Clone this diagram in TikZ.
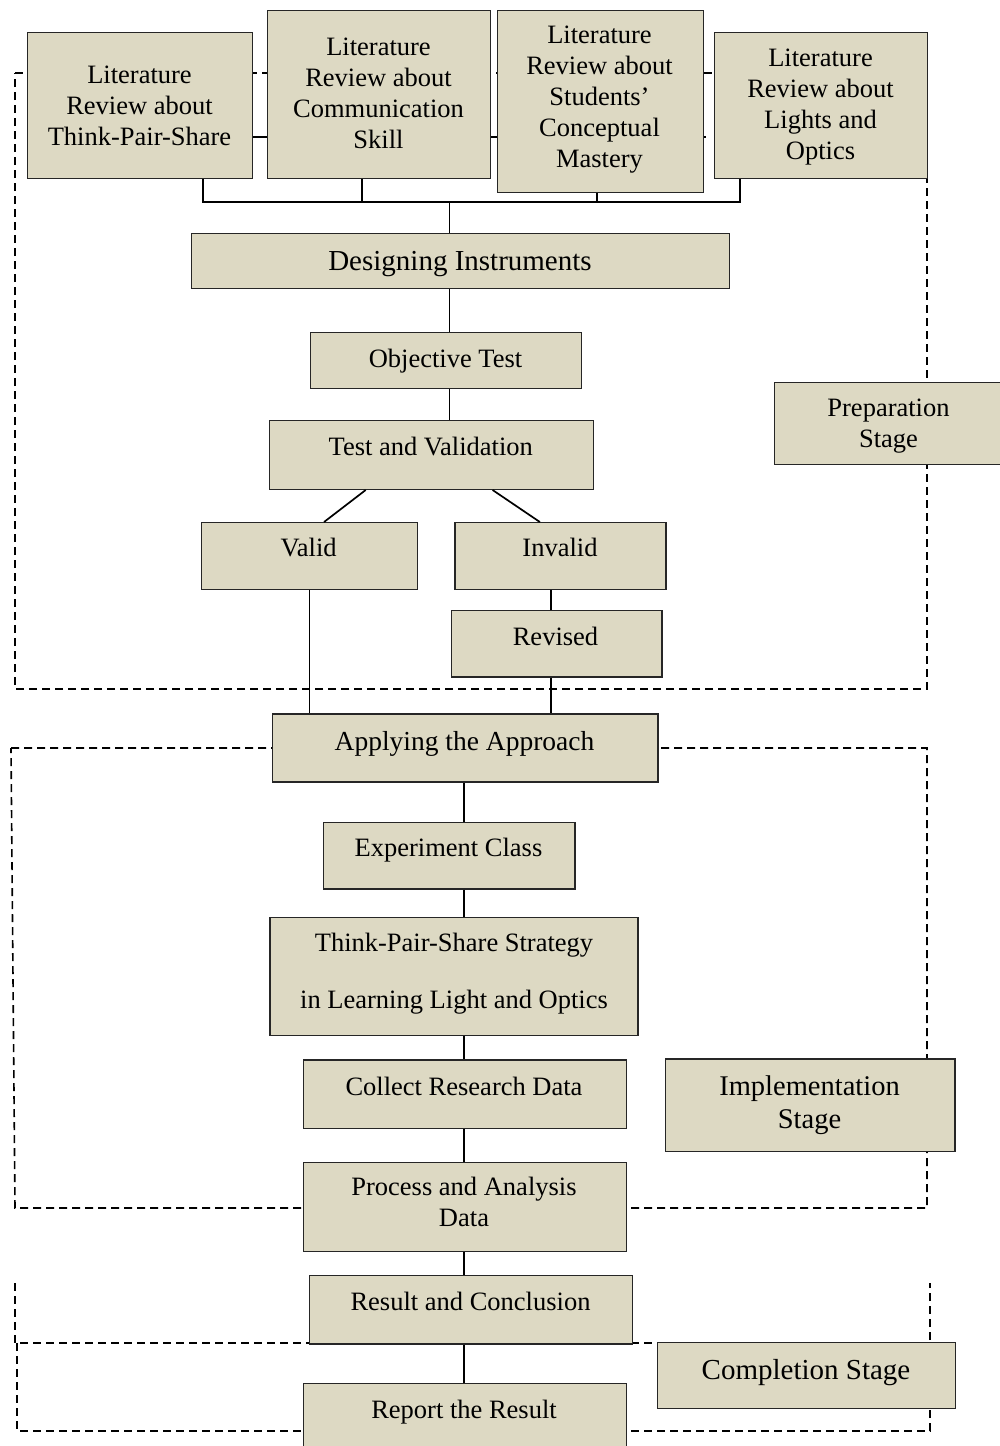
\documentclass[tikz,border=0pt]{standalone}
\usepackage{fontspec}
\setmainfont{Liberation Serif}
\usetikzlibrary{calc,backgrounds}
\definecolor{tanfill}{HTML}{DDD9C3}
\begin{document}
\begin{tikzpicture}[x=1pt,y=-1pt,
  bx/.style={draw=black!85, line width=1.3pt, fill=tanfill, rectangle, inner sep=0pt, anchor=north west},
  tx/.style={anchor=base, align=center, inner sep=0pt, font=\fontsize{26.5}{31}\selectfont},
  link/.style={line width=1.7pt, black},
  zone/.style={line width=1.6pt, black, dash pattern=on 8pt off 5pt}
]
\useasboundingbox (0,0) rectangle (1000,1446);

% boxes
\node[bx, minimum width=225pt, minimum height=146pt] (lit1) at (27,32) {};
\node[bx, minimum width=223pt, minimum height=168pt] (lit2) at (267,10) {};
\node[bx, minimum width=206.5pt, minimum height=181.5pt] (lit3) at (496.5,10) {};
\node[bx, minimum width=213pt, minimum height=146pt] (lit4) at (714,32) {};
\node[bx, minimum width=538pt, minimum height=55pt] (des) at (191,233) {};
\node[bx, minimum width=271pt, minimum height=55.5pt] (obj) at (310,332) {};
\node[bx, minimum width=323.7pt, minimum height=68.7pt] (tv) at (269,420) {};
\node[bx, minimum width=216pt, minimum height=66.7pt] (valid) at (200.7,522) {};
\node[bx, minimum width=211pt, minimum height=66.7pt] (invalid) at (454.3,522) {};
\node[bx, minimum width=210.3pt, minimum height=66.3pt] (rev) at (451,610) {};
\node[bx, minimum width=227pt, minimum height=82pt] (prep) at (774,382) {};
\node[bx, minimum width=385.6pt, minimum height=68pt] (app) at (271.7,713.3) {};
\node[bx, minimum width=251.3pt, minimum height=66.3pt] (exp) at (323,822) {};
\node[bx, minimum width=368pt, minimum height=118pt] (tpss) at (269.3,916.7) {};
\node[bx, minimum width=323.5pt, minimum height=68.7pt] (coll) at (302.5,1059.3) {};
\node[bx, minimum width=323.5pt, minimum height=89pt] (proc) at (302.5,1161.7) {};
\node[bx, minimum width=323pt, minimum height=68.3pt] (res) at (309,1275) {};
\node[bx, minimum width=323.5pt, minimum height=72pt] (rep) at (302.5,1382.7) {};
\node[bx, minimum width=289.3pt, minimum height=92.7pt] (impl) at (665,1058.3) {};
\node[bx, minimum width=298pt, minimum height=66pt] (comp) at (656.7,1342) {};

% texts (anchor = baseline of the last line)
\node[tx] (t-lit1) at (139.5,145) {Literature\\Review about\\Think-Pair-Share};
\node[tx] (t-lit2) at (378.5,148.3) {Literature\\Review about\\Communication\\Skill};
\node[tx] (t-lit3) at (599.5,167.7) {Literature\\Review about\\Students’\\Conceptual\\Mastery};
\node[tx] (t-lit4) at (820.5,159.3) {Literature\\Review about\\Lights and\\Optics};
\node[tx, font=\fontsize{29}{34}\selectfont] (t-des) at (460,270) {Designing Instruments};
\node[tx] (t-obj) at (445.5,367.3) {Objective Test};
\node[tx] (t-tv) at (430.8,455) {Test and Validation};
\node[tx] (t-valid) at (308.7,556.7) {Valid};
\node[tx] (t-invalid) at (560,556.7) {Invalid};
\node[tx] (t-rev) at (555.5,645) {Revised};
\node[tx] (t-prep) at (888.5,447.3) {Preparation\\Stage};
\node[tx, font=\fontsize{27.5}{32}\selectfont] (t-app) at (464.5,750.7) {Applying the Approach};
\node[tx] (t-exp) at (448.5,856.7) {Experiment Class};
\node[tx] (t-tpss) at (454,1008.3) {Think-Pair-Share Strategy\\[26pt]in Learning Light and Optics};
\node[tx] (t-coll) at (464,1095) {Collect Research Data};
\node[tx] (t-proc) at (464,1226.7) {Process and Analysis\\Data};
\node[tx] (t-res) at (470.5,1310) {Result and Conclusion};
\node[tx] (t-rep) at (464,1418.3) {Report the Result};
\node[tx, font=\fontsize{28.5}{33}\selectfont] (t-impl) at (809.5,1128.3) {Implementation\\Stage};
\node[tx, font=\fontsize{29}{34}\selectfont] (t-comp) at (806,1379.3) {Completion Stage};

% helper coordinates
\coordinate (xa) at (203,202);
\coordinate (xb) at (362,202);
\coordinate (xc) at (597,202);
\coordinate (xd) at (740,202);
\coordinate (trunk) at (449.6,202);
\coordinate (xr) at (551,0);
\coordinate (spine) at (464,0);

% connectors
\draw[link] (xa |- lit1.south) -- (xa) -- (xd) -- (xd |- lit4.south);
\draw[link] (xb |- lit2.south) -- (xb);
\draw[link] (xc |- lit3.south) -- (xc);
\draw[link] (trunk) -- (trunk |- des.north);
\draw[link] (trunk |- des.south) -- (trunk |- obj.north);
\draw[link] (trunk |- obj.south) -- (trunk |- tv.north);
\draw[link] ($(tv.south west)!0.2975!(tv.south east)$) -- ($(valid.north west)!0.5676!(valid.north east)$);
\draw[link] ($(tv.south west)!0.688!(tv.south east)$) -- ($(invalid.north west)!0.403!(invalid.north east)$);
\draw[link] (valid.south) -- (valid.south |- app.north);
\draw[link] (xr |- invalid.south) -- (xr |- rev.north);
\draw[link] (xr |- rev.south) -- (xr |- app.north);
\draw[link] (spine |- app.south) -- (spine |- exp.north);
\draw[link] (spine |- exp.south) -- (spine |- tpss.north);
\draw[link] (spine |- tpss.south) -- (spine |- coll.north);
\draw[link] (spine |- coll.south) -- (spine |- proc.north);
\draw[link] (spine |- proc.south) -- (spine |- res.north);
\draw[link] (spine |- res.south) -- (spine |- rep.north);

% stage zones and hidden lines behind boxes
\begin{pgfonlayer}{background}
\draw[link] (lit1.east |- 0,137) -- (706,137);
\draw[zone] (15,73) -- (927,73) -- (927,689) -- (15,689) -- cycle;
\draw[zone] (11,748) -- (927,748) -- (927,1208) -- (15,1208) -- cycle;
\draw[zone] (15,1283) -- (15,1343) -- (comp.west |- 0,1343);
\draw[zone] (17,1343) -- (17,1431) -- (930,1431) -- (930,1283);
\end{pgfonlayer}
\end{tikzpicture}
\end{document}
